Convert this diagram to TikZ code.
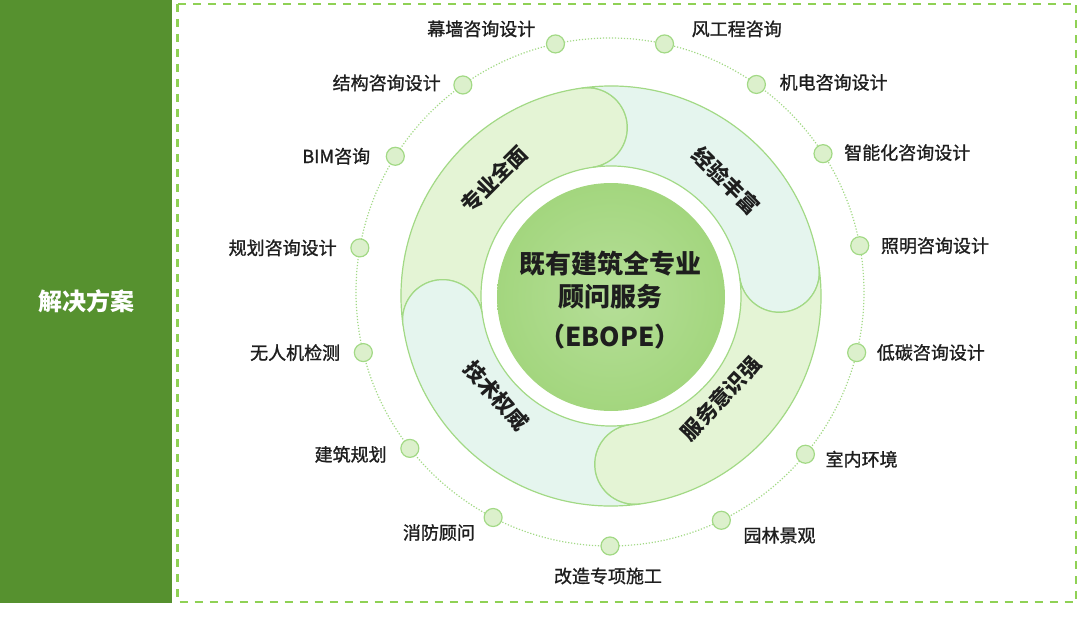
\documentclass[tikz,border=0pt]{standalone}
\usepackage{fontspec}
\setmainfont{Noto Sans CJK SC}
\newfontfamily\lblfont{Noto Sans CJK SC}[FakeBold=1.2]
\usepackage{xcolor}
\usetikzlibrary{calc}

\definecolor{barGreen}{HTML}{56912F}
\definecolor{dashGreen}{HTML}{8FD155}
\definecolor{lineGreen}{HTML}{A2D985}
\definecolor{dotFill}{HTML}{DCF0CC}
\definecolor{petalA}{HTML}{E4F4D5}
\definecolor{petalB}{HTML}{E5F5EE}
\definecolor{coreGreen}{HTML}{A3D67E}
\definecolor{inkGray}{HTML}{1E1E1E}

\begin{document}
\begin{tikzpicture}[
    x=1pt, y=1pt,
    lbl/.style={font=\lblfont\fontsize{18}{20}\selectfont, text=inkGray, inner sep=0pt},
    dotc/.style={circle, draw=lineGreen, fill=dotFill, line width=1.2pt, minimum size=18pt, inner sep=0pt},
    petal/.style={fill=#1, draw=lineGreen, line width=1.2pt},
    ptxt/.style={font=\fontsize{21}{23}\selectfont\bfseries, text=inkGray, inner sep=0pt},
    ctxt/.style={font=\fontsize{26}{28}\selectfont\bfseries, text=inkGray, inner sep=0pt},
  ]
  \useasboundingbox (0,0) rectangle (1080,-626);
  \def\Ro{210pt}  % outer radius of petals
  \def\Ri{130pt}  % inner radius of petals
  \def\hw{40pt}   % half width (cap radius)

  % --- Side bar ---
  \fill[barGreen] (0,0) rectangle (172,-603);
  \node[font=\fontsize{24}{26}\selectfont\bfseries, text=white] (side) at (86,-301) {解决方案};

  % --- Dashed frame ---
  \draw[dashGreen, line width=2.5pt, dash pattern=on 8pt off 7pt] (177.5,-4) rectangle (1076,-602);

  \coordinate (C) at (611,-296);  % centre of petals
  \coordinate (R) at (610,-292);  % centre of dotted ring

  % --- Dotted ring ---
  \draw[lineGreen, line width=1.2pt, dash pattern=on 1.2pt off 1.8pt] (R) circle[radius=254pt];

  % --- Petals (cap at clockwise end, notch at the other) ---
  \foreach \e/\col in {98/petalA, 8/petalB, -82/petalA, -172/petalB} {
    \pgfmathsetmacro\s{\e+90}
    \draw[petal=\col] ($(C)+(\s:\Ro)$)
      arc[start angle=\s, end angle=\e, radius=\Ro]
      arc[start angle=\e, end angle=\e-180, radius=\hw]
      arc[start angle=\e, end angle=\s, radius=\Ri]
      arc[start angle=\s-180, end angle=\s, radius=\hw] -- cycle;
  }
  \foreach \a/\r/\rot/\t [count=\i] in {135/165/45/专业全面, 45/163/-45/经验丰富, -43/150/47/服务意识强, 221/152/-49/技术权威} {
    \node[ptxt, rotate=\rot] (p\i) at ($(C)+(\a:\r pt)$) {\t};
  }

  % --- Core ---
  \node[circle, inner color=coreGreen!80, outer color=coreGreen, minimum size=228pt, inner sep=0pt] (core) at (611,-297) {};
  \node[ctxt] (c1) at (610,-264) {既有建筑全专业};
  \node[ctxt] (c2) at (610,-297) {顾问服务};
  \node[ctxt] (c3) at (610,-337) {（EBOPE）};

  % --- Service dots and labels ---
  \foreach \a/\t/\anc/\dx/\dy [count=\i] in {
      102.4/幕墙咨询设计/east/-20/15, 77.6/风工程咨询/west/27/15,
      125.4/结构咨询设计/east/-22/2, 54.8/机电咨询设计/west/23/2,
      147.7/BIM咨询/east/-25/0, 33/智能化咨询设计/west/21/1,
      170/规划咨询设计/east/-23/0, 10.5/照明咨询设计/west/21/0,
      193.8/无人机检测/east/-23/0, -13.8/低碳咨询设计/west/20/0,
      218/建筑规划/east/-23/-6, 320.3/室内环境/west/20/-5,
      242.6/消防顾问/east/-18/-15, 296/园林景观/west/22/-15,
      270/改造专项施工/center/-2/-30} {
    \node[dotc] (d\i) at ($(R)+(\a:254pt)$) {};
    \node[lbl, anchor=\anc] (l\i) at ($(d\i)+(\dx,\dy)$) {\t};
  }
\end{tikzpicture}
\end{document}
